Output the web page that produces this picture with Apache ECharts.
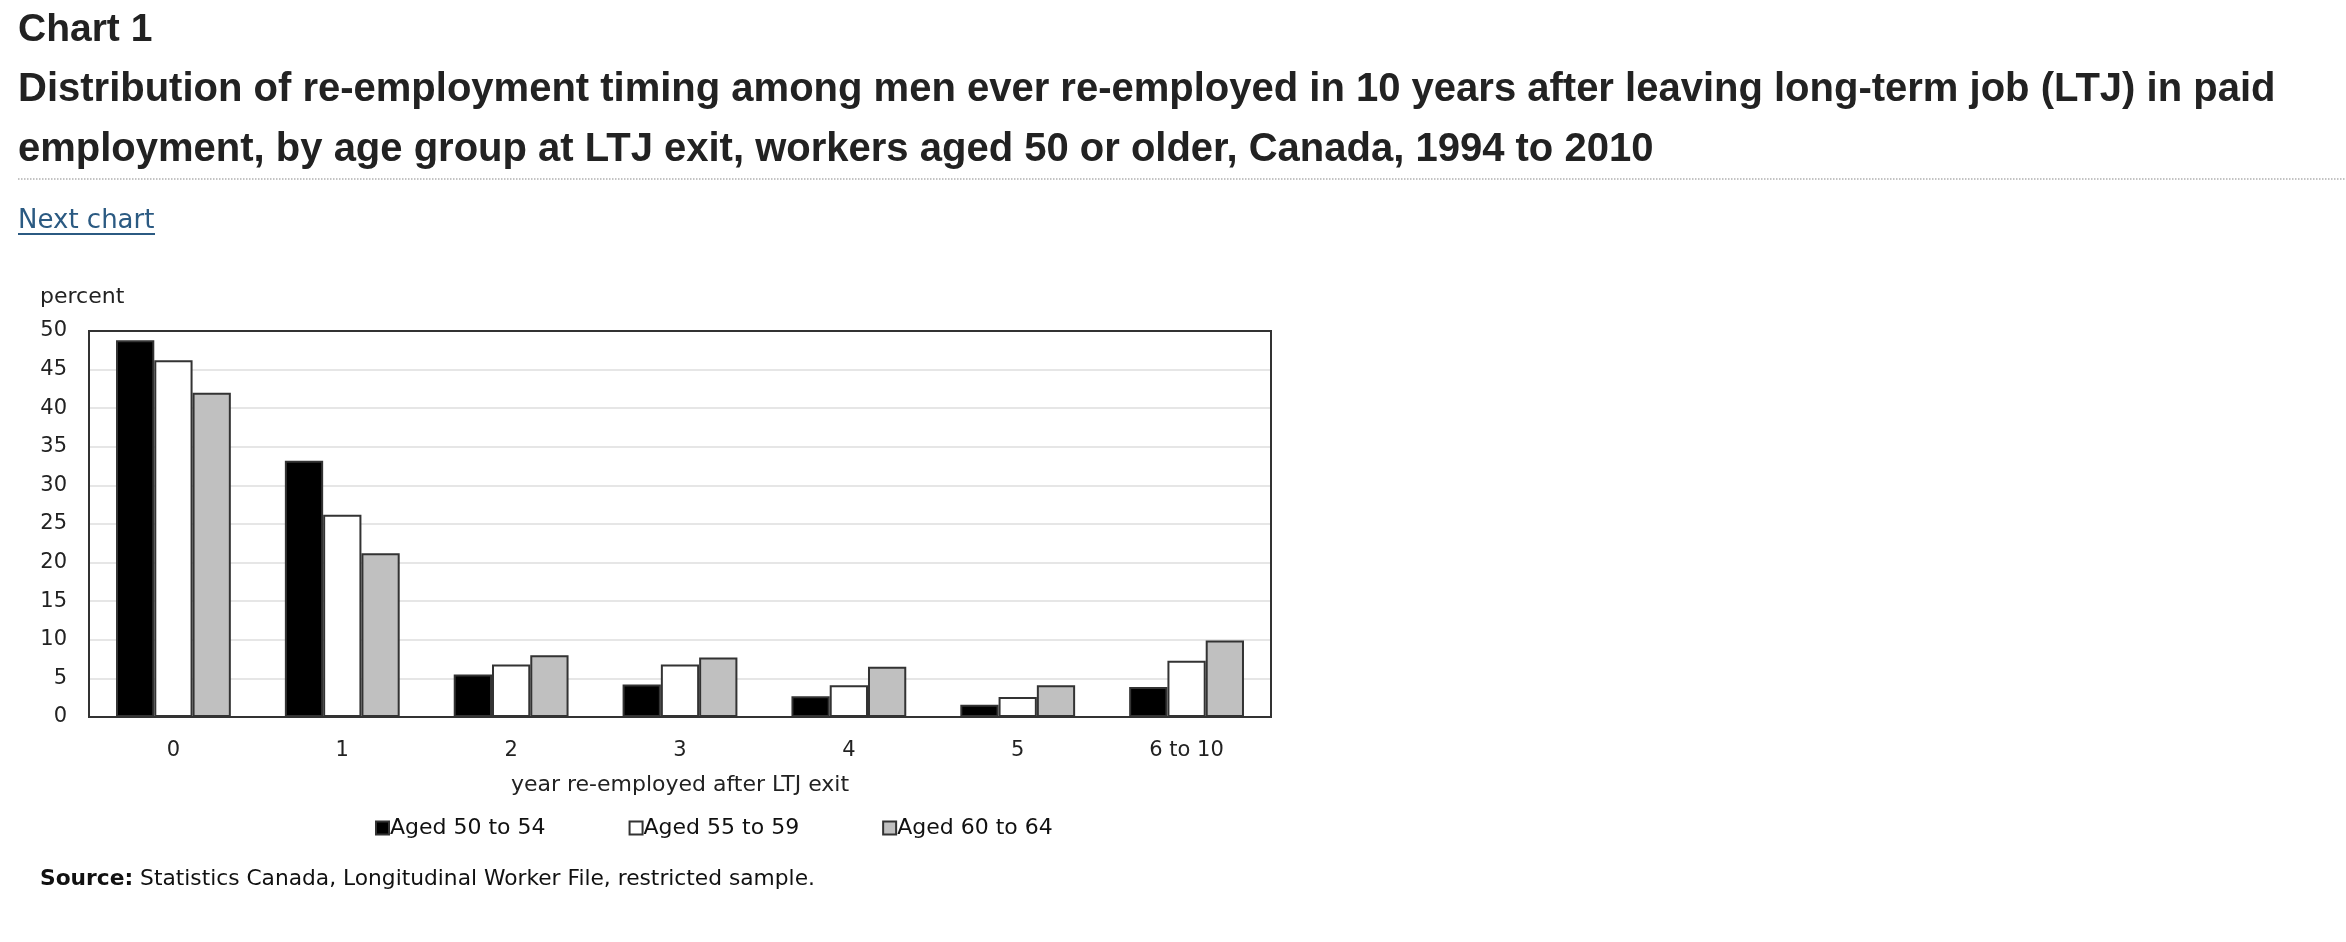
<!DOCTYPE html>
<html>
<head>
<meta charset="utf-8">
<script src="https://cdn.jsdelivr.net/npm/echarts@6/dist/echarts.min.js"></script>
<style>
html,body{margin:0;padding:0;background:#fff;}
#chart{width:2346px;height:942px;}
</style>
</head>
<body>
<div id="chart"></div>
<script>
// ---- data ----
const categories = ['0', '1', '2', '3', '4', '5', '6 to 10'];
const seriesNames = ['Aged 50 to 54', 'Aged 55 to 59', 'Aged 60 to 64'];
const aged50to54 = [48.8, 33.2, 5.5, 4.2, 2.7, 1.6, 3.9];
const aged55to59 = [46.2, 26.2, 6.8, 6.8, 4.1, 2.6, 7.3];
const aged60to64 = [42.0, 21.2, 8.0, 7.7, 6.5, 4.1, 9.9];
const yTicks = { min: 0, max: 50, interval: 5 };

const chartTitle = 'Chart 1';
const titleLine1 = 'Distribution of re-employment timing among men ever re-employed in 10 years after leaving long-term job (LTJ) in paid';
const titleLine2 = 'employment, by age group at LTJ exit, workers aged 50 or older, Canada, 1994 to 2010';
const linkText = 'Next chart';
const yName = 'percent';
const xName = 'year re-employed after LTJ exit';
const sourceLabel = 'Source:';
const sourceText = ' Statistics Canada, Longitudinal Worker File, restricted sample.';

const chartFont = 'DejaVu Sans';
const headFont = 'Liberation Sans';

const chart = echarts.init(document.getElementById('chart'), null, { renderer: 'canvas' });

const fills = ['#000000', '#ffffff', '#c0c0c0'];
const datasets = [aged50to54, aged55to59, aged60to64];
const frame = { color: '#333', width: 2 };

const option = {
  animation: false,
  backgroundColor: '#ffffff',
  title: [
    { text: chartTitle, left: 18, top: 11, textStyle: { fontFamily: headFont, fontWeight: 'bold', fontSize: 39, lineHeight: 39, color: '#222' }, padding: 0 },
    { text: titleLine1, left: 18, top: 70, textStyle: { fontFamily: headFont, fontWeight: 'bold', fontSize: 40, lineHeight: 40, color: '#222' }, padding: 0 },
    { text: titleLine2, left: 18, top: 130, textStyle: { fontFamily: headFont, fontWeight: 'bold', fontSize: 40, lineHeight: 40, color: '#222' }, padding: 0 }
  ],
  graphic: [
    { type: 'line', shape: { x1: 18, y1: 179, x2: 2346, y2: 179 }, style: { stroke: '#b0b0b0', lineWidth: 1.5, lineDash: [1.5, 1.5] } },
    { type: 'text', left: 18, top: 208, style: { text: linkText, font: '26px "' + chartFont + '"', fill: '#2b5a82' } },
    { type: 'line', shape: { x1: 18, y1: 234, x2: 155, y2: 234 }, style: { stroke: '#2b5a82', lineWidth: 2 } },
    { type: 'text', left: 40, top: 286, style: { text: yName, font: '22px "' + chartFont + '"', fill: '#222' } },
    { type: 'text', left: 40, top: 868, style: {
        text: '{b|' + sourceLabel + '}{n|' + sourceText + '}',
        rich: {
          b: { fontFamily: chartFont, fontWeight: 'bold', fontSize: 21.75, fill: '#111' },
          n: { fontFamily: chartFont, fontSize: 21.75, fill: '#111' }
        }
      } }
  ],
  legend: {
    data: seriesNames,
    left: 370,
    top: 812,
    itemWidth: 13,
    itemHeight: 13,
    itemGap: 83,
    icon: 'rect',
    textStyle: { fontFamily: chartFont, fontSize: 22, color: '#111', padding: [0, 0, 0, -4] }
  },
  grid: {
    left: 89, right: 2346 - 1271, top: 331, bottom: 942 - 717,
    show: true, borderColor: '#333', borderWidth: 2, backgroundColor: 'transparent'
  },
  xAxis: [{
    type: 'category',
    data: categories,
    name: xName,
    nameLocation: 'middle',
    nameGap: 57,
    nameTextStyle: { fontFamily: chartFont, fontSize: 22, color: '#222' },
    axisLine: { show: true, lineStyle: frame },
    axisTick: { show: false },
    axisLabel: { fontFamily: chartFont, fontSize: 21, color: '#222', margin: 23 },
    splitLine: { show: false }
  }, {
    type: 'category',
    data: categories,
    position: 'top',
    axisLine: { show: true, onZero: false, lineStyle: frame },
    axisTick: { show: false },
    axisLabel: { show: false },
    splitLine: { show: false }
  }],
  yAxis: [{
    type: 'value',
    min: yTicks.min, max: yTicks.max, interval: yTicks.interval,
    axisLine: { show: true, lineStyle: frame },
    axisTick: { show: false },
    axisLabel: { fontFamily: chartFont, fontSize: 21, color: '#222', margin: 22 },
    splitLine: { show: true, lineStyle: { color: '#e6e6e6', width: 2 } }
  }, {
    type: 'value',
    position: 'right',
    min: yTicks.min, max: yTicks.max, interval: yTicks.interval,
    axisLine: { show: true, onZero: false, lineStyle: frame },
    axisTick: { show: false },
    axisLabel: { show: false },
    splitLine: { show: false }
  }],
  series: seriesNames.map((name, i) => ({
    name: name,
    type: 'bar',
    data: datasets[i],
    barGap: '0%',
    barCategoryGap: '32%',
    itemStyle: { color: fills[i], borderColor: '#333', borderWidth: 2 }
  }))
};

chart.setOption(option);
</script>
</body>
</html>
